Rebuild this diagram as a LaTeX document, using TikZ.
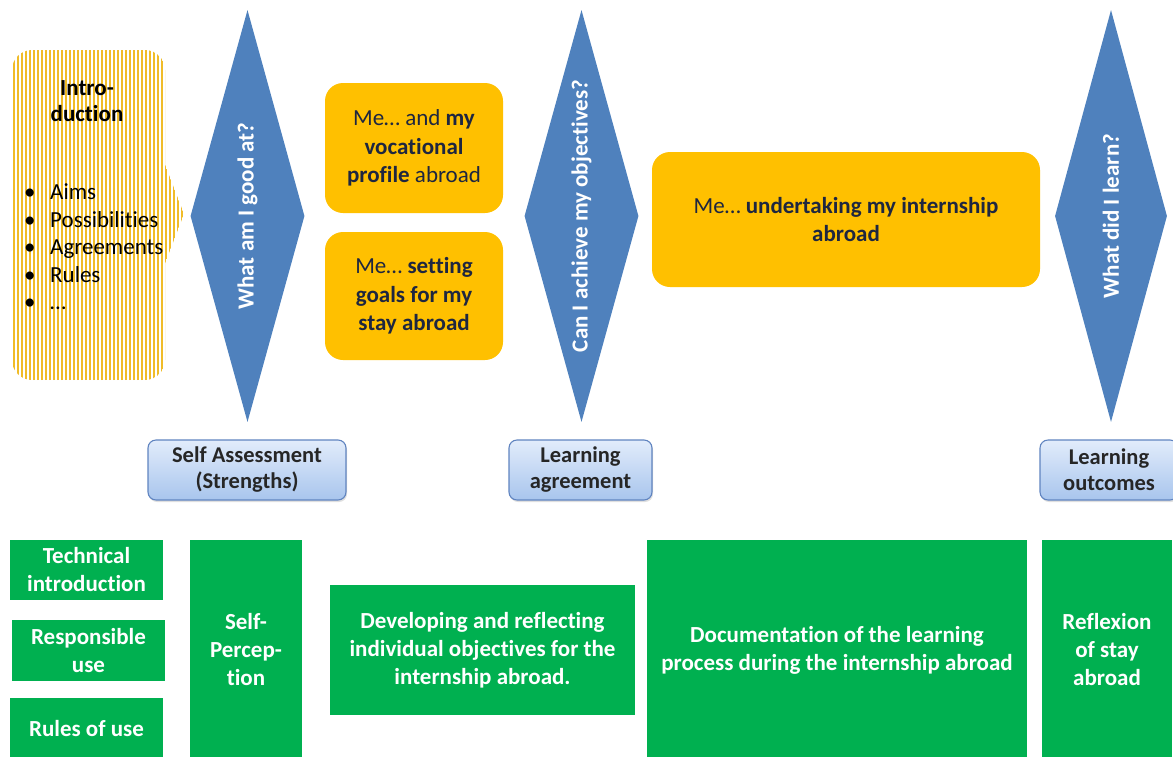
\documentclass[tikz,border=0pt]{standalone}
\usepackage{fontspec}
\setmainfont{Carlito}[Ligatures=NoCommon]
\usepackage{tikz}
\usetikzlibrary{shapes,shadows}

\definecolor{qblue}{RGB}{79,129,189}
\definecolor{mgold}{RGB}{255,192,0}
\definecolor{mtext}{RGB}{30,38,64}
\definecolor{tgreen}{RGB}{0,176,80}
\definecolor{stripe}{RGB}{240,188,40}
\definecolor{ltop}{RGB}{226,236,251}
\definecolor{lbot}{RGB}{168,197,237}
\definecolor{ledge}{RGB}{96,132,192}

\begin{document}
\begin{tikzpicture}[x=1pt,y=-1pt]
\tikzset{
	every node/.style = {font=\fontsize{23}{27.5}\selectfont, align=center, inner sep=0},
	question node/.style = {diamond, aspect=3.6, fill=qblue, text=white, font=\fontsize{23}{26}\selectfont\bfseries, rotate=90, minimum width=412, minimum height=114},
	me node/.style = {rounded corners=18, fill=mgold, text=mtext, font=\fontsize{23}{28.5}\selectfont, minimum width=178},
	stage node/.style = {rounded corners=8, draw=ledge, line width=1.1, top color=ltop, bottom color=lbot, text=black!85, font=\fontsize{22.5}{26}\selectfont\bfseries, minimum height=60, drop shadow={opacity=0.25, shadow xshift=1pt, shadow yshift=-2pt}},
	task node/.style = {fill=tgreen, text=white, font=\fontsize{23}{28}\selectfont\bfseries},
	stripes/.style = {path picture={\foreach \x in {2,6,...,158} \draw[stripe, line width=2.2] ([xshift=\x]path picture bounding box.south west) -- ([xshift=\x]path picture bounding box.north west);}},
}
\useasboundingbox (0,0) rectangle (1173,756);

% introduction
\node(0)[rounded corners=20, minimum width=153, minimum height=330, stripes] at (88.5,215) {};
\path[path picture={\foreach \x in {1,5,...,17} \draw[stripe, line width=2.2] ([xshift=\x]path picture bounding box.south west) -- ([xshift=\x]path picture bounding box.north west);}] (0.east |- 0,165) -- (184,214) -- (0.east |- 0,263) -- cycle;
\node(0-t)[font=\fontsize{23}{26}\selectfont\bfseries] at (87,101) {Intro-\\duction};
\node(0-l)[anchor=west, align=left] at (24,247) {%
\makebox[26pt][l]{\textbullet}Aims\\
\makebox[26pt][l]{\textbullet}Possibilities\\
\makebox[26pt][l]{\textbullet}Agreements\\
\makebox[26pt][l]{\textbullet}Rules\\
\makebox[26pt][l]{\textbullet}\dots};

% questions
\node(q1)[question node] at (247.5,216) {What am I good at?};
\node(q2)[question node] at (581.5,216) {Can I achieve my objectives?};
\node(q3)[question node, minimum height=112] at (1111,216) {What did I learn?};

% me boxes
\node(m1)[me node, minimum height=130] at (414,148) {Me\dots{} and \textbf{my}\\\textbf{vocational}\\\textbf{profile} abroad};
\node(m2)[me node, minimum height=128] at (414,296) {Me\dots{} \textbf{setting}\\\textbf{goals for my}\\\textbf{stay abroad}};
\node(m3)[me node, minimum width=388, minimum height=135] at (846,219.5) {Me\dots{} \textbf{undertaking my internship}\\\textbf{abroad}};

% stages
\node(s1)[stage node, minimum width=198] at (247,470) {Self Assessment\\(Strengths)};
\node(s2)[stage node, minimum width=143] at (580.5,470) {Learning\\agreement};
\node(s3)[stage node, minimum width=138] at (1109,470) {Learning\\outcomes};

% tasks
\node(t1)[task node, minimum width=153, minimum height=60] at (86.5,570) {Technical\\introduction};
\node(t2)[task node, minimum width=153, minimum height=61] at (88.5,650.5) {Responsible\\use};
\node(t3)[task node, minimum width=153, minimum height=62] at (86.5,729) {Rules of use};
\node(t4)[task node, minimum width=112, minimum height=220] at (246,650) {Self-\\Percep-\\tion};
\node(t5)[task node, minimum width=305, minimum height=130] at (482.5,650) {Developing and reflecting\\individual objectives for the\\internship abroad.};
\node(t6)[task node, minimum width=380, minimum height=220] at (837,650) {Documentation of the learning\\process during the internship abroad};
\node(t7)[task node, minimum width=130, minimum height=220] at (1107,650) {Reflexion\\of stay\\abroad};

\end{tikzpicture}
\end{document}
